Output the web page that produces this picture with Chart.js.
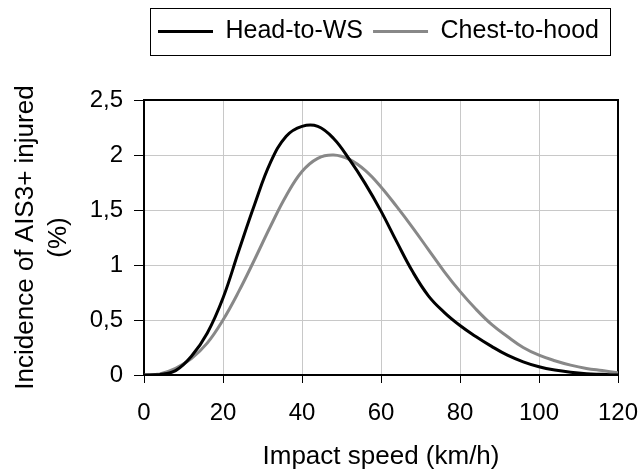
<!DOCTYPE html>
<html>
<head>
<meta charset="utf-8">
<script src="https://cdn.jsdelivr.net/npm/chart.js@4"></script>
<style>
  html, body { margin: 0; padding: 0; background: #fff; }
  #wrap { width: 642px; height: 472px; }
</style>
</head>
<body>
<div id="wrap"><canvas id="chart" width="642" height="472"></canvas></div>
<script>
'use strict';

// impact speed (km/h)
const speeds = [0, 4, 8, 12, 16, 20, 24, 28, 32, 36, 40, 44, 48, 52, 56, 60,
  64, 68, 72, 76, 80, 84, 88, 92, 96, 100, 104, 108, 112, 116, 120];

// incidence of AIS3+ injured (%)
const headToWS = [0, 0.005, 0.04, 0.17, 0.38, 0.70, 1.13, 1.55, 1.93, 2.17, 2.26,
  2.26, 2.15, 1.96, 1.74, 1.49, 1.21, 0.94, 0.72, 0.57, 0.45, 0.35, 0.26,
  0.18, 0.12, 0.075, 0.045, 0.025, 0.012, 0.006, 0];
const chestToHood = [0, 0.01, 0.06, 0.15, 0.29, 0.50, 0.76, 1.05, 1.35, 1.63,
  1.85, 1.97, 2.00, 1.96, 1.86, 1.71, 1.53, 1.34, 1.14, 0.94, 0.76, 0.60,
  0.46, 0.35, 0.25, 0.18, 0.13, 0.09, 0.06, 0.04, 0.02];

const seriesNames = ['Head-to-WS', 'Chest-to-hood'];
const xTitle = 'Impact speed (km/h)';
const yTitle = ['Incidence of AIS3+ injured', '(%)'];

const FONT = "'Liberation Sans', Arial, sans-serif";

function points(values) {
  return speeds.map((s, i) => ({ x: s, y: values[i] }));
}

// legend: fixed height, shifted start, framed
const legendTweaks = {
  id: 'legendTweaks',
  beforeInit(chart) {
    const legend = chart.legend;
    const fit = legend.fit;
    legend.fit = function () {
      fit.call(this);
      this.height = 91;
    };
  },
  afterLayout(chart) {
    chart.legend.left = 148;
  },
  afterDraw(chart) {
    const boxes = chart.legend.legendHitBoxes;
    if (!boxes || !boxes.length) return;
    const l = Math.min(...boxes.map(b => b.left));
    const r = Math.max(...boxes.map(b => b.left + b.width));
    const t = Math.min(...boxes.map(b => b.top));
    const b = Math.max(...boxes.map(b => b.top + b.height));
    const ctx = chart.ctx;
    ctx.save();
    ctx.strokeStyle = '#000';
    ctx.lineWidth = 1;
    ctx.strokeRect(Math.round(l - 8) + 0.5, Math.round(t - 11) + 0.5,
      Math.round(r - l + 19), Math.round(b - t + 22));
    ctx.restore();
  }
};

// black frame around the plot area
const plotFrame = {
  id: 'plotFrame',
  beforeDatasetsDraw(chart) {
    const a = chart.chartArea;
    const ctx = chart.ctx;
    ctx.save();
    ctx.strokeStyle = '#000';
    ctx.lineWidth = 2;
    ctx.strokeRect(a.left, a.top, a.right - a.left, a.bottom - a.top);
    ctx.restore();
  }
};

new Chart(document.getElementById('chart').getContext('2d'), {
  type: 'line',
  data: {
    datasets: [{
      label: seriesNames[0],
      data: points(headToWS),
      borderColor: '#000000',
      backgroundColor: '#000000',
      borderWidth: 3,
      pointRadius: 0,
      tension: 0.4
    }, {
      label: seriesNames[1],
      data: points(chestToHood),
      borderColor: '#888888',
      backgroundColor: '#888888',
      borderWidth: 3,
      pointRadius: 0,
      tension: 0.4
    }]
  },
  options: {
    responsive: false,
    animation: false,
    layout: { padding: { left: 0, right: 24, top: 9, bottom: 0 } },
    plugins: {
      tooltip: { enabled: false },
      legend: {
        position: 'top',
        align: 'start',
        labels: {
          color: '#000',
          font: { family: FONT, size: 25 },
          usePointStyle: true,
          pointStyle: 'line',
          pointStyleWidth: 55,
          padding: 10
        }
      }
    },
    scales: {
      x: {
        type: 'linear',
        min: 0,
        max: 120,
        afterFit(scale) {
          scale.height = 97;
          scale.paddingRight = 0;
        },
        ticks: {
          stepSize: 20,
          color: '#000',
          padding: 16,
          maxRotation: 0,
          font: { family: FONT, size: 24 }
        },
        grid: { color: '#c8c8c8', tickColor: '#000', tickLength: 8 },
        border: { display: false },
        title: {
          display: true,
          text: xTitle,
          color: '#000',
          font: { family: FONT, size: 26 },
          padding: { top: 0, bottom: 0 }
        }
      },
      y: {
        min: 0,
        max: 2.5,
        afterFit(scale) { scale.width = 144; },
        ticks: {
          stepSize: 0.5,
          color: '#000',
          padding: 11,
          font: { family: FONT, size: 24 },
          callback: v => String(v).replace('.', ',')
        },
        grid: { color: '#c8c8c8', tickColor: '#000', tickLength: 10 },
        border: { display: false },
        title: {
          display: true,
          text: yTitle,
          color: '#000',
          font: { family: FONT, size: 26, lineHeight: 1.25 },
          padding: { top: 10, bottom: 0 }
        }
      }
    }
  },
  plugins: [legendTweaks, plotFrame]
});
</script>
</body>
</html>
